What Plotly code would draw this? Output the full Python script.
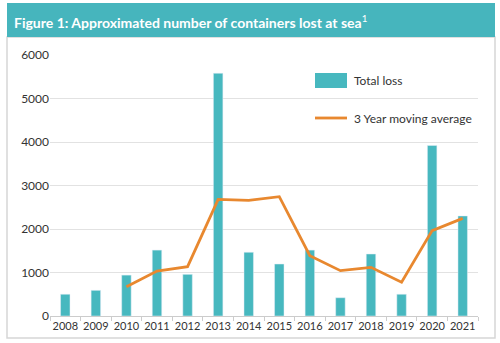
import plotly.graph_objects as go

years = ["2008","2009","2010","2011","2012","2013","2014","2015","2016","2017","2018","2019","2020","2021"]
total_loss = [500, 590, 940, 1515, 958, 5580, 1465, 1195, 1515, 420, 1425, 500, 3920, 2300]
moving_avg = [None, None, 675, 1034, 1134, 2682, 2660, 2743, 1387, 1042, 1119, 775, 1962, 2245]

TEAL = "#47b8bf"
ORANGE = "#e8882f"
FONT = "Lato"

W, H = 500, 343
L, R, T, B = 50, 22, 55, 27
pw, ph = W - L - R, H - T - B

def px(x):
    return (x - L) / pw

def py(y):
    return (H - B - y) / ph

fig = go.Figure()
fig.add_trace(go.Bar(x=years, y=total_loss, marker_color=TEAL, width=0.31,
                     name="Total loss", showlegend=False))
fig.add_trace(go.Scatter(x=years, y=moving_avg, mode="lines",
                         line=dict(color=ORANGE, width=2.8),
                         name="3 Year moving average", showlegend=False))

shapes = [
    dict(type="rect", xref="paper", yref="paper", x0=px(7), x1=px(495), y0=py(338), y1=py(37),
         line=dict(color="#d6d6d6", width=1.5), fillcolor="white", layer="below"),
    dict(type="rect", xref="paper", yref="paper", x0=px(7), x1=px(495), y0=py(37), y1=py(3),
         line=dict(width=0), fillcolor="#46b5bd", layer="below"),
    dict(type="rect", xref="paper", yref="paper", x0=px(315), x1=px(347), y0=py(88), y1=py(73),
         line=dict(width=0), fillcolor=TEAL),
    dict(type="line", xref="paper", yref="paper", x0=px(315), x1=px(347), y0=py(118), y1=py(118),
         line=dict(color=ORANGE, width=2.8)),
]

annotations = [
    dict(text="<b>Figure 1: Approximated number of containers lost at sea</b><sup>1</sup>",
         xref="paper", yref="paper", x=px(12), y=py(21), xanchor="left", yanchor="middle",
         showarrow=False, font=dict(family=FONT, size=14, color="white")),
    dict(text="Total loss", xref="paper", yref="paper", x=px(352), y=py(81),
         xanchor="left", yanchor="middle", showarrow=False,
         font=dict(family=FONT, size=12, color="#333333")),
    dict(text="3 Year moving average", xref="paper", yref="paper", x=px(352), y=py(118),
         xanchor="left", yanchor="middle", showarrow=False,
         font=dict(family=FONT, size=12, color="#333333")),
]

fig.update_layout(
    width=W, height=H,
    margin=dict(l=L, r=R, t=T, b=B),
    paper_bgcolor="white", plot_bgcolor="rgba(0,0,0,0)",
    font=dict(family=FONT, size=12, color="#333333"),
    shapes=shapes, annotations=annotations,
    bargap=0.69,
    xaxis=dict(type="category", showgrid=False, showline=True, linecolor="#cccccc",
               ticks="outside", tickson="boundaries", ticklen=4, tickcolor="#cccccc",
               tickangle=0, automargin=False,
               tickfont=dict(size=11, color="#333333"), range=[-0.5, 13.5]),
    yaxis=dict(range=[0, 6000], dtick=1000, showgrid=True, gridcolor="#e2e2e2",
               zeroline=False, showline=False, ticks="", automargin=False,
               tickfont=dict(size=12, color="#333333")),
)

fig.write_html("out.html")
